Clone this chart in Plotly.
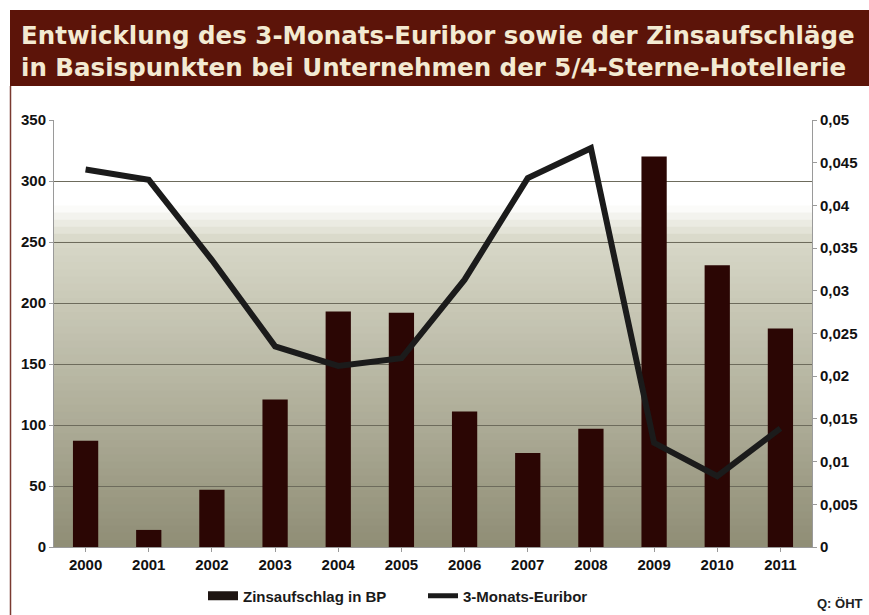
import plotly.graph_objects as go

years = ["2000", "2001", "2002", "2003", "2004", "2005", "2006", "2007", "2008", "2009", "2010", "2011"]
zinsaufschlag_bp = [87, 14, 47, 121, 193, 192, 111, 77, 97, 320, 231, 179]
euribor_3m = [0.0442, 0.0430, 0.0336, 0.0235, 0.0212, 0.0221, 0.0313, 0.0432, 0.0467, 0.0122, 0.0083, 0.0139]

left_ticks = [0, 50, 100, 150, 200, 250, 300, 350]
right_ticks = [0, 0.005, 0.01, 0.015, 0.02, 0.025, 0.03, 0.035, 0.04, 0.045, 0.05]
right_ticktext = ["0", "0,005", "0,01", "0,015", "0,02", "0,025", "0,03", "0,035", "0,04", "0,045", "0,05"]

title_lines = ["Entwicklung des 3-Monats-Euribor sowie der Zinsaufschläge",
               "in Basispunkten bei Unternehmen der 5/4-Sterne-Hotellerie"]
source_text = "Q: ÖHT"
bar_name = "Zinsaufschlag in BP"
line_name = "3-Monats-Euribor"

W, H = 869, 615
L, R, T, B = 54, 57, 120, 68
PW, PH = W - L - R, H - T - B


def px(x):
    return (x - L) / PW


def py(y):
    return (H - B - y) / PH


BAR_COLOR = "#2b0604"
LINE_COLOR = "#1b1b1b"

fig = go.Figure()
fig.add_trace(go.Bar(x=years, y=zinsaufschlag_bp, name=bar_name, showlegend=False,
                     marker=dict(color=BAR_COLOR, line=dict(width=0)), yaxis="y"))
fig.add_trace(go.Scatter(x=years, y=euribor_3m, name=line_name, mode="lines", showlegend=False,
                         line=dict(color=LINE_COLOR, width=6), yaxis="y2"))
# legend entries (wide rectangle for bars, thick line for the line series)
fig.add_trace(go.Scatter(x=[None], y=[None], name=bar_name, mode="lines",
                         line=dict(color="#1e1512", width=9)))
fig.add_trace(go.Scatter(x=[None], y=[None], name=line_name, mode="lines",
                         line=dict(color=LINE_COLOR, width=5)))


def mix(c1, c2, t):
    return "rgb(%d,%d,%d)" % tuple(round(a + (b - a) * t) for a, b in zip(c1, c2))


shapes = []
n = 60
white = (255, 255, 255)
light = (216, 216, 200)
dark = (143, 141, 117)
for i in range(n):
    f0, f1 = i / n, (i + 1) / n
    fm = (f0 + f1) / 2
    if fm > 0.80:
        col = mix(white, white, 0)
    elif fm > 0.72:
        col = mix(light, white, (fm - 0.72) / 0.08)
    else:
        col = mix(dark, light, fm / 0.72)
    shapes.append(dict(type="rect", xref="paper", yref="paper", x0=0, x1=1, y0=f0, y1=f1 + 0.002,
                       fillcolor=col, line=dict(width=0), layer="below"))

# title banner
shapes.append(dict(type="rect", xref="paper", yref="paper", x0=px(10), x1=px(872), y0=py(86), y1=py(10),
                   fillcolor="#5c1409", line=dict(width=0), layer="above"))
# left frame line
shapes.append(dict(type="line", xref="paper", yref="paper", x0=px(10.5), x1=px(10.5), y0=py(86), y1=py(620),
                   line=dict(color="#7a3a30", width=1.5)))

title_font = dict(family="DejaVu Sans", size=24.5, color="#f3ead2", weight="bold")
annotations = [
    dict(text=title_lines[0], xref="paper", yref="paper", x=px(19), y=py(35), xanchor="left", yanchor="middle",
         showarrow=False, font=title_font),
    dict(text=title_lines[1], xref="paper", yref="paper", x=px(19), y=py(67), xanchor="left", yanchor="middle",
         showarrow=False, font=title_font),
    dict(text=source_text, xref="paper", yref="paper", x=px(865), y=py(603), xanchor="right", yanchor="middle",
         showarrow=False, font=dict(family="Liberation Sans", size=13, color="#222", weight="bold")),
]

tick_font = dict(family="Liberation Sans", size=15, color="#111", weight="bold")

fig.update_layout(
    width=W, height=H,
    margin=dict(l=L, r=R, t=T, b=B, autoexpand=False),
    paper_bgcolor="white", plot_bgcolor="rgba(0,0,0,0)",
    bargap=0.6,
    showlegend=True,
    legend=dict(orientation="h", x=px(203), xanchor="left", y=py(596), yanchor="middle",
                font=dict(family="Liberation Sans", size=15, color="#1a1a1a", weight=600),
                bgcolor="rgba(0,0,0,0)",
                itemwidth=30, entrywidth=175, entrywidthmode="pixels", traceorder="normal"),
    font=dict(family="Liberation Sans", size=13, color="#111"),
    xaxis=dict(type="category", showgrid=False, showline=True, linecolor="#9a9a9a", linewidth=1,
               ticks="outside", ticklen=4, tickcolor="#9a9a9a", tickfont=tick_font, mirror=False),
    yaxis=dict(range=[0, 350], tickvals=left_ticks, showgrid=True, gridcolor="#6d6b5c", gridwidth=1,
               showline=True, linecolor="#9a9a9a", ticks="outside", ticklen=4, tickcolor="#9a9a9a",
               tickfont=tick_font, zeroline=False),
    yaxis2=dict(range=[0, 0.05], overlaying="y", side="right", tickvals=right_ticks, ticktext=right_ticktext,
                showgrid=False, showline=True, linecolor="#9a9a9a", ticks="outside", ticklen=4, tickcolor="#9a9a9a",
                tickfont=tick_font, zeroline=False),
    shapes=shapes,
    annotations=annotations,
)

fig.write_html("out.html", config={"displayModeBar": False},
               post_script="document.body.style.margin='0';document.body.style.overflow='hidden';")
